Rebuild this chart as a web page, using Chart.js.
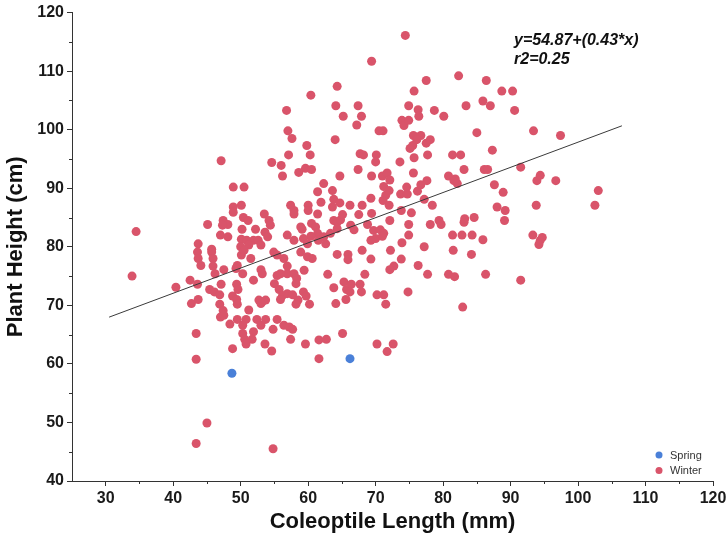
<!DOCTYPE html>
<html>
<head>
<meta charset="utf-8">
<script src="https://cdn.jsdelivr.net/npm/chart.js@4.4.1/dist/chart.umd.min.js"></script>
<style>
  html, body { margin: 0; padding: 0; background: #fff; }
  #wrap { width: 726px; height: 538px; }
</style>
</head>
<body>
<div id="wrap"><canvas id="chart" width="726" height="538"></canvas></div>
<script>
// values
const springX = [48.7, 66.2];
const springY = [58.4, 60.9];

const winterX = [
  60.4, 56.8, 57.0, 57.6, 59.8, 57.1, 60.3, 47.1, 54.6, 56.0, 59.6, 60.5, 58.6, 56.2, 48.9, 50.5, 61.4, 50.1, 48.9, 48.9,
  57.4, 57.9, 57.9, 60.0, 60.0, 61.4, 53.5, 50.4, 51.1, 47.4, 48.1, 47.3, 54.2, 54.4, 53.6, 54.0, 45.1, 60.5, 61.1, 50.2,
  52.2, 59.1, 47.0, 48.1, 50.1, 50.9, 51.9, 52.6, 56.9, 57.9, 34.5, 43.7, 45.7, 50.0, 51.2, 53.0, 61.4,
  33.9, 40.4, 42.5, 43.6, 43.7, 44.1, 43.6, 42.7, 43.7, 45.7, 45.9, 45.9, 46.2, 47.5, 47.1, 45.4, 46.1, 46.9, 46.9, 47.4,
  47.0, 47.5, 43.4, 43.4, 45.0, 43.4, 54.8, 48.8, 50.1, 50.5, 51.5, 49.5, 49.3, 50.3, 49.4, 49.6, 48.8, 49.4, 49.5, 51.9,
  53.0, 53.2, 51.2, 48.4, 49.5, 50.8, 50.3, 52.4, 53.0, 53.7, 50.3, 50.6, 50.8, 51.9, 51.7, 53.6, 54.6, 54.8, 55.4, 55.0,
  55.7, 55.4, 55.9, 56.9, 52.7, 53.2, 53.7, 53.0, 56.4, 56.9, 54.9, 55.4, 56.2, 56.9, 55.9, 57.7, 57.9, 58.3, 58.2, 59.3,
  59.7, 58.5, 58.2, 60.2, 59.4, 56.4, 57.2, 57.7, 57.4, 59.6, 58.9, 59.9, 60.6, 61.6, 61.6,
  60.4, 59.3, 59.9, 61.5, 62.6, 58.9,
  74.4, 69.4, 64.3, 64.1, 65.2, 67.4, 67.9, 67.2, 64.0, 77.5, 82.3, 86.4, 88.7, 90.3, 75.7, 74.9, 76.3, 76.4, 78.7, 80.1,
  73.9, 74.2, 74.9, 83.4, 85.9, 87.0, 90.6, 85.0, 70.5, 71.1, 75.6, 76.7, 76.1, 75.1, 75.5, 75.7, 77.5, 78.1, 77.7, 67.7,
  68.2, 70.1, 70.0, 67.4, 64.7, 69.4, 71.0, 71.7, 72.1, 73.6, 75.6, 81.4, 82.6, 83.1, 86.1, 86.6, 87.3, 80.8, 81.6, 82.1,
  81.8, 77.6, 87.6, 88.9, 63.6, 63.8, 69.3, 71.2, 71.5, 71.1, 72.0, 73.7, 74.7, 74.6, 76.2, 76.7, 64.7, 66.2, 68.0, 69.4,
  72.0, 73.8, 75.3, 77.2, 78.4, 88.0, 89.2, 89.1, 63.6, 63.8, 64.3, 64.8, 65.1, 67.5, 68.8, 69.7, 70.0, 69.3, 70.7, 71.2,
  71.0, 72.1, 74.9, 74.9, 73.9, 78.1, 79.4, 79.7, 81.4, 82.8, 83.2, 83.1, 84.6, 84.3, 85.9, 66.3, 66.8, 64.3, 62.3, 63.3,
  62.3, 61.9, 77.2,
  93.4, 97.4, 91.5, 93.9, 94.4, 96.7, 103.0, 102.5, 93.8, 93.3, 94.4, 94.7, 94.2,
  64.3, 65.9, 65.9, 68.0, 69.3, 72.2, 73.8, 72.7, 72.1, 76.3, 77.7, 80.8, 81.7, 81.5, 84.2, 86.3, 91.5, 62.9, 63.8, 64.1,
  65.3, 65.7, 66.4, 66.2, 67.7, 67.9, 65.6, 68.4, 70.2, 71.2, 71.5, 74.8, 82.9, 65.1, 62.7, 70.2, 72.6, 71.7
];
const winterY = [
  105.9, 103.3, 99.8, 98.5, 97.3, 95.7, 95.7, 94.7, 94.4, 93.9, 93.4, 93.2, 92.7, 92.1, 90.2, 90.2, 89.4, 87.1, 86.8, 85.9,
  87.1, 86.2, 85.6, 87.1, 86.2, 85.6, 85.6, 85.0, 84.5, 84.5, 83.8, 83.7, 84.5, 83.7, 82.5, 81.7, 83.8, 84.0, 83.4, 83.0,
  83.0, 83.0, 82.0, 81.7, 81.3, 81.1, 81.1, 81.1, 82.0, 81.1, 82.6, 80.5, 79.6, 80.0, 80.3, 80.3, 82.3,
  75.0, 73.1, 74.3, 79.1, 78.0, 76.8, 73.6, 70.3, 71.0, 79.1, 78.0, 76.7, 75.4, 76.1, 73.6, 72.7, 72.3, 71.8, 70.2, 69.1,
  68.0, 68.3, 65.2, 60.8, 49.9, 46.4, 45.5, 62.6, 78.6, 79.4, 78.0, 76.8, 76.3, 75.4, 73.6, 72.7, 71.6, 71.0, 70.2, 74.3,
  76.1, 75.4, 69.2, 66.8, 67.6, 67.6, 66.6, 67.6, 66.6, 67.6, 65.2, 64.2, 63.4, 65.5, 64.2, 63.4, 62.2, 65.9, 67.6, 73.7,
  72.7, 75.1, 75.4, 75.4, 70.9, 70.6, 70.9, 70.3, 78.0, 76.7, 79.1, 78.6, 71.7, 72.0, 71.0, 71.8, 75.4, 74.6, 73.7, 72.3,
  71.6, 70.9, 70.2, 70.2, 76.0, 66.6, 66.3, 65.9, 64.2, 63.4, 79.1, 78.3, 78.0, 64.1, 60.9,
  81.8, 81.4, 80.5, 81.1, 80.5, 83.4,
  116.1, 111.7, 107.4, 104.1, 102.3, 104.1, 102.3, 100.8, 98.3, 108.4, 109.2, 108.4, 106.6, 106.6, 106.6, 104.1, 103.4, 102.3, 103.3, 102.3,
  101.6, 100.7, 101.6, 104.1, 104.9, 104.1, 103.3, 99.5, 99.8, 99.8, 99.0, 99.0, 98.3, 96.8, 97.3, 95.2, 97.7, 98.3, 95.7, 95.9,
  95.7, 95.7, 94.5, 93.2, 92.1, 92.1, 92.1, 92.6, 91.4, 94.5, 92.6, 95.7, 95.7, 93.2, 93.2, 93.2, 96.5, 92.1, 91.3, 90.8,
  91.6, 91.3, 90.6, 89.3, 89.6, 88.1, 88.3, 90.3, 88.8, 87.9, 89.6, 89.0, 89.0, 90.2, 89.5, 90.6, 87.5, 87.1, 87.1, 85.7,
  87.1, 86.2, 85.8, 88.1, 87.1, 86.8, 86.2, 84.5, 86.8, 84.5, 84.2, 84.6, 85.5, 85.5, 83.8, 82.8, 81.4, 81.1, 82.9, 82.3,
  81.8, 84.5, 83.8, 82.0, 80.7, 83.8, 84.5, 83.8, 82.0, 82.0, 84.8, 84.2, 85.0, 82.0, 81.2, 83.7, 82.9, 83.1, 81.7, 82.3,
  90.8, 87.6, 80.0,
  99.8, 99.0, 93.6, 91.3, 92.2, 91.3, 89.6, 87.1, 87.1, 82.0, 81.1, 81.6, 80.4,
  78.7, 78.7, 77.8, 79.4, 77.9, 79.4, 77.9, 76.7, 76.1, 76.8, 75.3, 75.3, 74.9, 79.4, 78.7, 75.3, 74.3, 75.3, 73.0, 70.3,
  74.0, 72.7, 73.6, 72.3, 73.6, 72.3, 71.0, 75.3, 71.8, 71.8, 70.2, 72.3, 69.7, 65.2, 64.2, 63.4, 63.4, 62.1
];

// fitted line as printed on the chart
const fitIntercept = 54.87;
const fitSlope = 0.43;
const fitStart = 30.5;
const fitEnd = 106.5;

const xTicks = [30, 40, 50, 60, 70, 80, 90, 100, 110, 120];
const yTicks = [40, 50, 60, 70, 80, 90, 100, 110, 120];

const FONT = '"Liberation Sans", Arial, sans-serif';
const AXIS_COLOR = '#333333';

function zip(xs, ys) {
  return xs.map((v, i) => ({ x: v, y: ys[i] }));
}

// minor ticks, equation and the small legend in the corner
const decorations = {
  id: 'decorations',
  afterDraw(chart) {
    const ctx = chart.ctx;
    const xs = chart.scales.x;
    const ys = chart.scales.y;
    ctx.save();
    ctx.strokeStyle = AXIS_COLOR;
    ctx.lineWidth = 1;
    for (let i = 0; i < xTicks.length - 1; i++) {
      const px = Math.round(xs.getPixelForValue((xTicks[i] + xTicks[i + 1]) / 2)) + 0.5;
      ctx.beginPath();
      ctx.moveTo(px, ys.bottom);
      ctx.lineTo(px, ys.bottom + 3);
      ctx.stroke();
    }
    for (let i = 0; i < yTicks.length - 1; i++) {
      const py = Math.round(ys.getPixelForValue((yTicks[i] + yTicks[i + 1]) / 2)) + 0.5;
      ctx.beginPath();
      ctx.moveTo(xs.left, py);
      ctx.lineTo(xs.left - 3, py);
      ctx.stroke();
    }

    ctx.fillStyle = '#111';
    ctx.font = 'italic bold 16px ' + FONT;
    ctx.textBaseline = 'middle';
    ctx.textAlign = 'left';
    ctx.fillText('y=' + fitIntercept + '+(' + fitSlope + '*x)', 514, 41);
    ctx.fillText('r2=0.25', 514, 60);

    ctx.font = '11px ' + FONT;
    let row = 0;
    chart.data.datasets.forEach(ds => {
      if (ds.type === 'line') return;
      const cy = 455 + row * 15.5;
      ctx.fillStyle = ds.backgroundColor;
      ctx.beginPath();
      ctx.arc(659, cy, 3.5, 0, Math.PI * 2);
      ctx.fill();
      ctx.fillStyle = '#333';
      ctx.fillText(ds.label, 670, cy + 0.5);
      row++;
    });
    ctx.restore();
  }
};

const axisCommon = {
  type: 'linear',
  border: { display: true, color: AXIS_COLOR, width: 1 },
  grid: { display: true, drawOnChartArea: false, drawTicks: true, tickLength: 5, color: AXIS_COLOR },
  ticks: { font: { family: FONT, size: 16, weight: 'bold' }, color: '#1a1a1a', padding: 3, autoSkip: false, maxRotation: 0 }
};

new Chart(document.getElementById('chart'), {
  type: 'scatter',
  data: {
    datasets: [
      {
        label: 'Spring',
        data: zip(springX, springY),
        backgroundColor: '#4a80d8',
        borderWidth: 0,
        pointRadius: 4.5,
        order: 1
      },
      {
        label: 'Winter',
        data: zip(winterX, winterY),
        backgroundColor: '#d9546a',
        borderWidth: 0,
        pointRadius: 4.5,
        order: 2
      },
      {
        type: 'line',
        label: 'fit',
        data: [
          { x: fitStart, y: fitIntercept + fitSlope * fitStart },
          { x: fitEnd, y: fitIntercept + fitSlope * fitEnd }
        ],
        borderColor: '#3a3a3a',
        borderWidth: 1,
        pointRadius: 0,
        fill: false,
        order: 0
      }
    ]
  },
  options: {
    responsive: false,
    animation: false,
    layout: { padding: { top: 12, right: 0, left: 0, bottom: 0 } },
    plugins: { legend: { display: false }, tooltip: { enabled: false } },
    scales: {
      x: {
        ...axisCommon,
        min: 25,
        max: 120,
        afterBuildTicks: s => { s.ticks = xTicks.map(v => ({ value: v })); },
        afterFit: s => { s.height = 57; s.paddingRight = 13; },
        title: { display: true, text: 'Coleoptile Length (mm)', color: '#111', font: { family: FONT, size: 22, weight: 'bold' }, padding: { top: 4, bottom: 3 } }
      },
      y: {
        ...axisCommon,
        min: 40,
        max: 120,
        afterBuildTicks: s => { s.ticks = yTicks.map(v => ({ value: v })); },
        afterFit: s => { s.width = 72; },
        title: { display: true, text: 'Plant Height (cm)', color: '#111', font: { family: FONT, size: 22, weight: 'bold' }, padding: { top: 3, bottom: 4 } }
      }
    }
  },
  plugins: [decorations]
});
</script>
</body>
</html>
